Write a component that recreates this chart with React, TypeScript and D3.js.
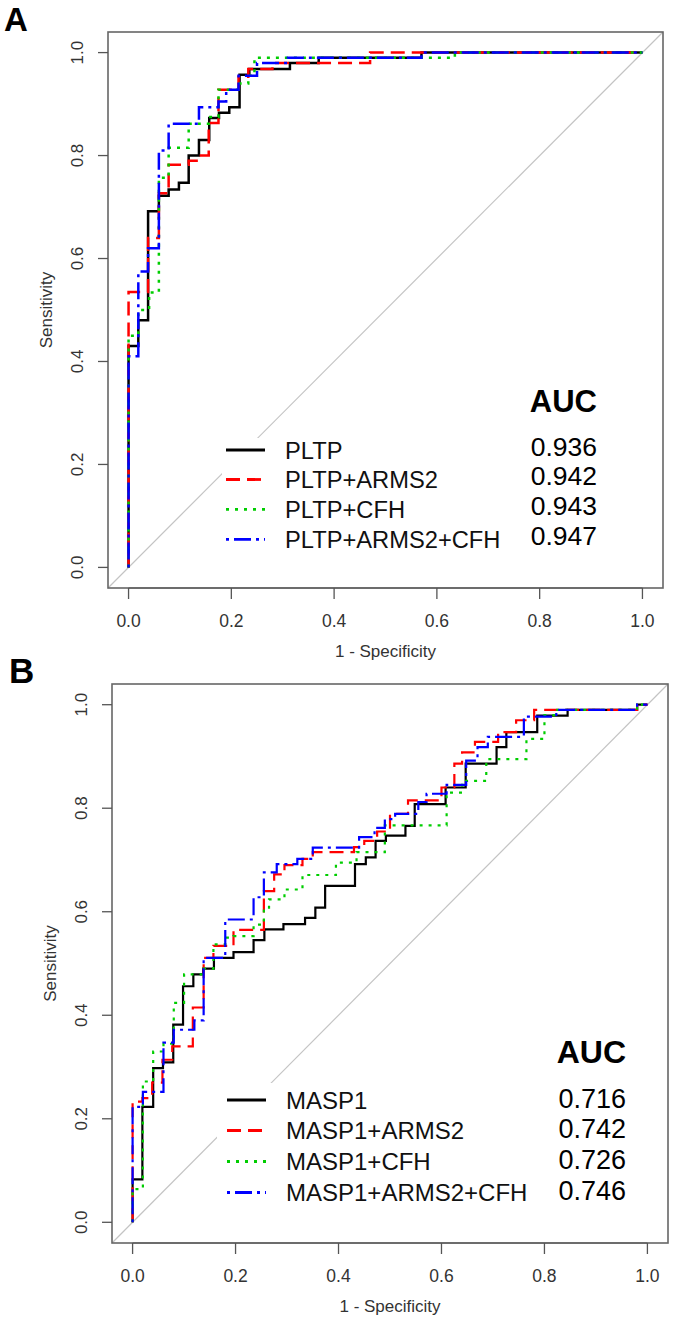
import React from 'react';
import * as d3 from 'd3';

type Pt = [number, number];

const TICK_VALUES = [0, 0.2, 0.4, 0.6, 0.8, 1.0];
const TICK_LABELS = ['0.0', '0.2', '0.4', '0.6', '0.8', '1.0'];
const X_TITLE = '1 - Specificity';
const Y_TITLE = 'Sensitivity';

const A_LABELS = ['PLTP', 'PLTP+ARMS2', 'PLTP+CFH', 'PLTP+ARMS2+CFH'];
const A_AUC = ['0.936', '0.942', '0.943', '0.947'];
const B_LABELS = ['MASP1', 'MASP1+ARMS2', 'MASP1+CFH', 'MASP1+ARMS2+CFH'];
const B_AUC = ['0.716', '0.742', '0.726', '0.746'];

// Panel A ROC points [1 - specificity, sensitivity]
const A_PLTP: Pt[] = [[0,0],[0,0.43],[0.019,0.43],[0.019,0.48],[0.038,0.48],[0.038,0.692],[0.059,0.692],[0.059,0.722],[0.078,0.722],[0.078,0.734],[0.098,0.734],[0.098,0.747],[0.117,0.747],[0.117,0.80],[0.137,0.80],[0.137,0.83],[0.157,0.83],[0.157,0.873],[0.176,0.873],[0.176,0.883],[0.196,0.883],[0.196,0.894],[0.216,0.894],[0.216,0.957],[0.235,0.957],[0.235,0.968],[0.314,0.968],[0.314,0.98],[0.37,0.98],[0.37,0.99],[0.57,0.99],[0.57,1],[1,1]];
const A_PLTP_ARMS2: Pt[] = [[0,0],[0,0.535],[0.038,0.535],[0.038,0.64],[0.059,0.64],[0.059,0.727],[0.078,0.727],[0.078,0.782],[0.117,0.782],[0.117,0.79],[0.137,0.79],[0.137,0.80],[0.156,0.80],[0.156,0.863],[0.175,0.863],[0.175,0.928],[0.214,0.928],[0.214,0.953],[0.233,0.953],[0.233,0.968],[0.28,0.968],[0.28,0.98],[0.47,0.98],[0.47,1],[1,1]];
const A_PLTP_CFH: Pt[] = [[0,0],[0,0.45],[0.019,0.45],[0.019,0.50],[0.04,0.50],[0.04,0.534],[0.059,0.534],[0.059,0.757],[0.078,0.757],[0.078,0.815],[0.117,0.815],[0.117,0.862],[0.156,0.862],[0.156,0.875],[0.175,0.875],[0.175,0.928],[0.214,0.928],[0.214,0.94],[0.233,0.94],[0.233,0.955],[0.245,0.955],[0.245,0.99],[0.635,0.99],[0.635,1],[1,1]];
const A_PLTP_ARMS2_CFH: Pt[] = [[0,0],[0,0.41],[0.019,0.41],[0.019,0.575],[0.038,0.575],[0.038,0.62],[0.059,0.62],[0.059,0.81],[0.078,0.81],[0.078,0.862],[0.137,0.862],[0.137,0.894],[0.175,0.894],[0.175,0.905],[0.19,0.905],[0.19,0.928],[0.214,0.928],[0.214,0.955],[0.25,0.955],[0.25,0.98],[0.31,0.98],[0.31,0.99],[0.57,0.99],[0.57,1],[1,1]];

// Panel B ROC points
const B_MASP1: Pt[] = [[0,0],[0,0.083],[0.019,0.083],[0.019,0.223],[0.04,0.223],[0.04,0.298],[0.059,0.298],[0.059,0.309],[0.079,0.309],[0.079,0.382],[0.098,0.382],[0.098,0.456],[0.118,0.456],[0.118,0.479],[0.137,0.479],[0.137,0.49],[0.158,0.49],[0.158,0.511],[0.196,0.511],[0.196,0.522],[0.235,0.522],[0.235,0.545],[0.256,0.545],[0.256,0.566],[0.293,0.566],[0.293,0.576],[0.335,0.576],[0.335,0.588],[0.355,0.588],[0.355,0.608],[0.374,0.608],[0.374,0.65],[0.432,0.65],[0.432,0.692],[0.453,0.692],[0.453,0.705],[0.472,0.705],[0.472,0.737],[0.492,0.737],[0.492,0.747],[0.53,0.747],[0.53,0.766],[0.548,0.766],[0.548,0.808],[0.608,0.808],[0.608,0.84],[0.647,0.84],[0.647,0.886],[0.707,0.886],[0.707,0.918],[0.726,0.918],[0.726,0.947],[0.786,0.947],[0.786,0.979],[0.845,0.979],[0.845,0.99],[0.98,0.99],[0.98,1],[1,1]];
const B_MASP1_ARMS2: Pt[] = [[0,0],[0,0.233],[0.019,0.233],[0.019,0.24],[0.038,0.24],[0.038,0.27],[0.058,0.27],[0.058,0.314],[0.077,0.314],[0.077,0.34],[0.117,0.34],[0.117,0.415],[0.138,0.415],[0.138,0.511],[0.157,0.511],[0.157,0.534],[0.196,0.534],[0.196,0.565],[0.255,0.565],[0.255,0.64],[0.275,0.64],[0.275,0.672],[0.295,0.672],[0.295,0.69],[0.33,0.69],[0.33,0.702],[0.35,0.702],[0.35,0.715],[0.43,0.715],[0.43,0.725],[0.45,0.725],[0.45,0.737],[0.475,0.737],[0.475,0.755],[0.5,0.755],[0.5,0.789],[0.535,0.789],[0.535,0.815],[0.6,0.815],[0.6,0.84],[0.625,0.84],[0.625,0.886],[0.64,0.886],[0.64,0.908],[0.665,0.908],[0.665,0.928],[0.71,0.928],[0.71,0.947],[0.745,0.947],[0.745,0.97],[0.78,0.97],[0.78,0.99],[0.98,0.99],[0.98,1],[1,1]];
const B_MASP1_CFH: Pt[] = [[0,0],[0,0.064],[0.02,0.064],[0.02,0.272],[0.04,0.272],[0.04,0.33],[0.06,0.33],[0.06,0.345],[0.08,0.345],[0.08,0.424],[0.1,0.424],[0.1,0.479],[0.138,0.479],[0.138,0.49],[0.157,0.49],[0.157,0.537],[0.18,0.537],[0.18,0.55],[0.196,0.55],[0.196,0.553],[0.235,0.553],[0.235,0.575],[0.255,0.575],[0.255,0.605],[0.265,0.605],[0.265,0.624],[0.295,0.624],[0.295,0.643],[0.33,0.643],[0.33,0.671],[0.395,0.671],[0.395,0.695],[0.435,0.695],[0.435,0.715],[0.49,0.715],[0.49,0.767],[0.61,0.767],[0.61,0.83],[0.64,0.83],[0.64,0.853],[0.687,0.853],[0.687,0.895],[0.765,0.895],[0.765,0.934],[0.8,0.934],[0.8,0.98],[0.82,0.98],[0.82,0.99],[0.98,0.99],[0.98,1],[1,1]];
const B_MASP1_ARMS2_CFH: Pt[] = [[0,0],[0,0.223],[0.02,0.223],[0.02,0.252],[0.06,0.252],[0.06,0.347],[0.08,0.347],[0.08,0.372],[0.12,0.372],[0.12,0.39],[0.138,0.39],[0.138,0.511],[0.18,0.511],[0.18,0.585],[0.235,0.585],[0.235,0.628],[0.255,0.628],[0.255,0.676],[0.28,0.676],[0.28,0.692],[0.32,0.692],[0.32,0.702],[0.35,0.702],[0.35,0.724],[0.44,0.724],[0.44,0.744],[0.47,0.744],[0.47,0.762],[0.49,0.762],[0.49,0.779],[0.51,0.779],[0.51,0.789],[0.555,0.789],[0.555,0.812],[0.571,0.812],[0.571,0.828],[0.61,0.828],[0.61,0.845],[0.648,0.845],[0.648,0.892],[0.67,0.892],[0.67,0.918],[0.69,0.918],[0.69,0.938],[0.76,0.938],[0.76,0.977],[0.823,0.977],[0.823,0.99],[0.98,0.99],[0.98,1],[1,1]];

const SERIES_COLORS = ['#000000', '#FF0000', '#00CD00', '#0000FF'];
const SERIES_DASH = ['none', '14 7', '3 6', '3 5 17 5'];

const FONT = "'Liberation Sans', Arial, Helvetica, sans-serif";

interface PanelProps {
  letter: string;
  letterX: number;
  letterY: number;
  letterSize: number;
  box: { left: number; right: number; top: number; bottom: number };
  curves: Pt[][];
  labels: string[];
  aucs: string[];
  curveWidth: number;
  legend: {
    rect: [number, number, number, number];
    rows: number[];
    lineX1: number;
    lineX2: number;
    labelX: number;
    labelDy: number;
    valueX: number;
    valueDy: number;
    aucY: number;
    aucSize: number;
    valueSize: number;
    labelSize: number;
  };
}

function Panel(p: PanelProps) {
  const { box, legend } = p;
  const xs = d3.scaleLinear().domain([-0.04, 1.04]).range([box.left, box.right]);
  const ys = d3.scaleLinear().domain([-0.04, 1.04]).range([box.bottom, box.top]);
  const line = d3.line<Pt>().x((d) => xs(d[0])).y((d) => ys(d[1]));
  const axisGray = '#555';
  return (
    <g>
      <text x={p.letterX} y={p.letterY} fontFamily={FONT} fontWeight="bold" fontSize={p.letterSize} fill="#000">
        {p.letter}
      </text>
      <line x1={xs(-0.04)} y1={ys(-0.04)} x2={xs(1.04)} y2={ys(1.04)} stroke="#c4c4c4" strokeWidth={1.2} />
      {p.curves.map((c, i) => (
        <path
          key={i}
          d={line(c) || ''}
          fill="none"
          stroke={SERIES_COLORS[i]}
          strokeWidth={p.curveWidth}
          strokeDasharray={SERIES_DASH[i]}
          strokeLinejoin="miter"
          strokeLinecap="butt"
        />
      ))}
      <rect x={legend.rect[0]} y={legend.rect[1]} width={legend.rect[2]} height={legend.rect[3]} fill="#fff" />
      <rect x={box.left} y={box.top} width={box.right - box.left} height={box.bottom - box.top} fill="none" stroke="#666" strokeWidth={1.6} />
      <line x1={xs(0)} x2={xs(1)} y1={box.bottom} y2={box.bottom} stroke={axisGray} strokeWidth={1.2} />
      {TICK_VALUES.map((t, i) => (
        <g key={'x' + i}>
          <line x1={xs(t)} x2={xs(t)} y1={box.bottom} y2={box.bottom + 11} stroke={axisGray} strokeWidth={1.3} />
          <text x={xs(t)} y={box.bottom + 38.5} textAnchor="middle" fontFamily={FONT} fontSize={17.5} fill="#333">
            {TICK_LABELS[i]}
          </text>
        </g>
      ))}
      {TICK_VALUES.map((t, i) => (
        <g key={'y' + i}>
          <line x1={box.left - 10} x2={box.left} y1={ys(t)} y2={ys(t)} stroke={axisGray} strokeWidth={1.3} />
          <text
            transform={`translate(${box.left - 25},${ys(t)}) rotate(-90)`}
            textAnchor="middle"
            fontFamily={FONT}
            fontSize={17}
            fill="#333"
          >
            {TICK_LABELS[i]}
          </text>
        </g>
      ))}
      <text x={(xs(0) + xs(1)) / 2} y={box.bottom + 69} textAnchor="middle" fontFamily={FONT} fontSize={17} fill="#333">
        {X_TITLE}
      </text>
      <text
        transform={`translate(${box.left - 56},${(ys(0) + ys(1)) / 2}) rotate(-90)`}
        textAnchor="middle"
        fontFamily={FONT}
        fontSize={17}
        fill="#333"
      >
        {Y_TITLE}
      </text>
      <text x={legend.valueX} y={legend.aucY} textAnchor="end" fontFamily={FONT} fontWeight="bold" fontSize={legend.aucSize} fill="#000">
        AUC
      </text>
      {p.labels.map((lab, i) => (
        <g key={'l' + i}>
          <line
            x1={legend.lineX1}
            x2={legend.lineX2}
            y1={legend.rows[i]}
            y2={legend.rows[i]}
            stroke={SERIES_COLORS[i]}
            strokeWidth={2.8}
            strokeDasharray={SERIES_DASH[i]}
          />
          <text x={legend.labelX} y={legend.rows[i] + legend.labelDy} fontFamily={FONT} fontSize={legend.labelSize} fill="#111">
            {lab}
          </text>
          <text x={legend.valueX} y={legend.rows[i] + legend.valueDy} textAnchor="end" fontFamily={FONT} fontSize={legend.valueSize} fill="#000">
            {p.aucs[i]}
          </text>
        </g>
      ))}
    </g>
  );
}

export default function App() {
  return (
    <svg
      width={675}
      height={1322}
      viewBox="0 0 675 1322"
      style={{ position: 'absolute', left: 0, top: 0, background: '#fff' }}
    >
      <rect x={0} y={0} width={675} height={1322} fill="#fff" />
      <Panel
        letter="A"
        letterX={4}
        letterY={31}
        letterSize={33}
        box={{ left: 108, right: 663, top: 32, bottom: 588 }}
        curves={[A_PLTP, A_PLTP_ARMS2, A_PLTP_CFH, A_PLTP_ARMS2_CFH]}
        labels={A_LABELS}
        aucs={A_AUC}
        curveWidth={2.5}
        legend={{
          rect: [222, 438, 300, 125],
          rows: [450, 479.5, 509.3, 539.3],
          lineX1: 226,
          lineX2: 265,
          labelX: 285,
          labelDy: 8.5,
          valueX: 597,
          valueDy: 5.5,
          aucY: 412,
          aucSize: 31,
          valueSize: 26.5,
          labelSize: 23.7,
        }}
      />
      <Panel
        letter="B"
        letterX={9}
        letterY={683}
        letterSize={35}
        box={{ left: 112, right: 668, top: 684, bottom: 1243 }}
        curves={[B_MASP1, B_MASP1_ARMS2, B_MASP1_CFH, B_MASP1_ARMS2_CFH]}
        labels={B_LABELS}
        aucs={B_AUC}
        curveWidth={2.2}
        legend={{
          rect: [217, 1083, 325, 128],
          rows: [1100, 1130.5, 1161.5, 1192.5],
          lineX1: 227,
          lineX2: 266,
          labelX: 286,
          labelDy: 8.5,
          valueX: 626,
          valueDy: 7.5,
          aucY: 1063,
          aucSize: 32,
          valueSize: 27,
          labelSize: 24,
        }}
      />
    </svg>
  );
}
